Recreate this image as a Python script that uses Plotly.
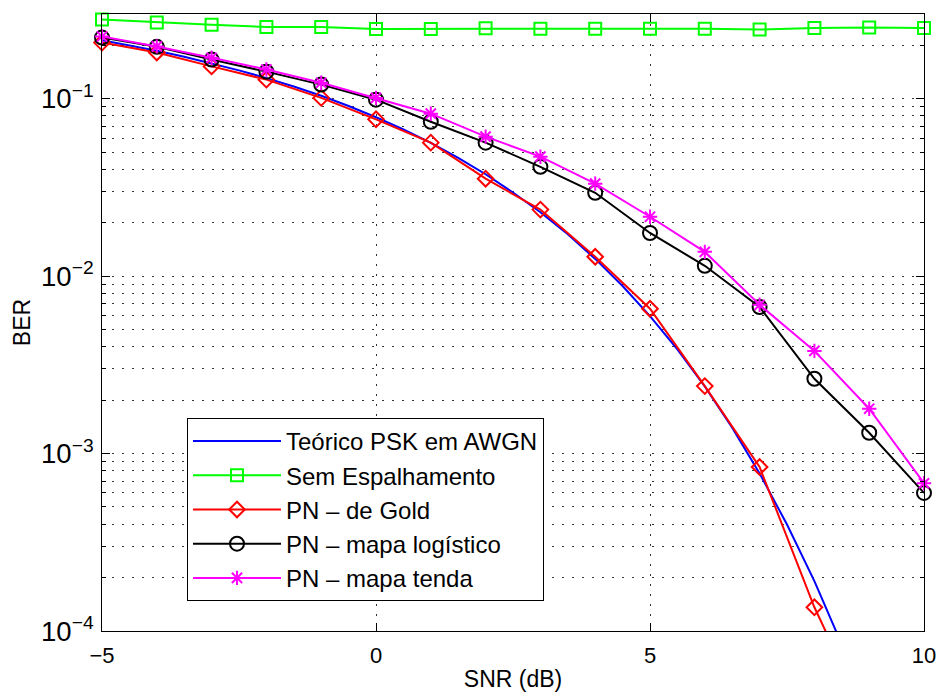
import math
import plotly.graph_objects as go

# ---- data ----
snr_theory = [-5, -4.5, -4, -3.5, -3, -2.5, -2, -1.5, -1, -0.5, 0, 0.5, 1, 1.5, 2, 2.5,
              3, 3.5, 4, 4.5, 5, 5.5, 6, 6.5, 7, 7.5, 8, 8.5, 9]
ber_theory = [0.2132, 0.1998, 0.1861, 0.1723, 0.1584, 0.1444, 0.1306, 0.1171, 0.1038,
              0.0909, 0.0786, 0.0671, 0.0563, 0.0464, 0.0375, 0.0296, 0.0229, 0.0172,
              0.0125, 0.0088, 0.00595, 0.00386, 0.00239, 0.0014, 0.000773, 0.000398,
              0.000191, 0.000084, 0.0000336]

snr = [-5, -4, -3, -2, -1, 0, 1, 2, 3, 4, 5, 6, 7, 8, 9, 10]
ber_sem = [0.279, 0.269, 0.261, 0.2535, 0.2535, 0.247, 0.247, 0.249, 0.248, 0.248,
           0.248, 0.248, 0.245, 0.250, 0.252, 0.250]
snr_gold = [-5, -4, -3, -2, -1, 0, 1, 2, 3, 4, 5, 6, 7, 8, 9]
ber_gold = [0.207, 0.182, 0.152, 0.128, 0.101, 0.0765, 0.0565, 0.0354, 0.0237, 0.01285,
            0.00655, 0.0024, 0.00084, 0.000136, 0.00003]
ber_log = [0.221, 0.196, 0.166, 0.142, 0.120, 0.0987, 0.0741, 0.0565, 0.0413, 0.0295,
           0.0175, 0.01143, 0.0067, 0.00264, 0.00131, 0.00060]
ber_tenda = [0.224, 0.197, 0.170, 0.146, 0.123, 0.101, 0.0823, 0.0611, 0.0471, 0.0332,
             0.0216, 0.0137, 0.00689, 0.00379, 0.00179, 0.00068]

names = ["Teórico PSK em AWGN", "Sem Espalhamento", "PN – de Gold",
         "PN – mapa logístico", "PN – mapa tenda"]

FONT = "Liberation Sans, Arial, Helvetica, sans-serif"
GRIDDASH = "2px,8px"
GRIDCOLOR = "#333333"

fig = go.Figure()
fig.add_trace(go.Scatter(x=snr_theory, y=ber_theory, mode="lines", name=names[0],
                         line=dict(color="#0000FF", width=2), legendgroup="a"))
fig.add_trace(go.Scatter(x=snr, y=ber_sem, mode="lines+markers", name=names[1],
                         line=dict(color="#00FF00", width=2), cliponaxis=False,
                         marker=dict(symbol="square-open", size=12, color="#00FF00",
                                     line=dict(width=2, color="#00FF00")),
                         legendgroup="b"))
fig.add_trace(go.Scatter(x=snr_gold, y=ber_gold, mode="lines+markers", name=names[2],
                         line=dict(color="#FF0000", width=2), cliponaxis=False,
                         marker=dict(symbol="diamond-open", size=12, color="#FF0000",
                                     line=dict(width=2, color="#FF0000")),
                         legendgroup="c"))
fig.add_trace(go.Scatter(x=snr, y=ber_log, mode="lines+markers", name=names[3],
                         line=dict(color="#000000", width=2), cliponaxis=False,
                         marker=dict(symbol="circle-open", size=14, color="#000000",
                                     line=dict(width=2, color="#000000")),
                         legendgroup="d"))
fig.add_trace(go.Scatter(x=snr, y=ber_tenda, mode="lines+markers", name=names[4],
                         line=dict(color="#FF00FF", width=2), cliponaxis=False,
                         marker=dict(symbol="asterisk-open", size=12, color="#FF00FF",
                                     line=dict(width=2, color="#FF00FF")),
                         legendgroup="e"))

fig.update_layout(
    width=940, height=695,
    margin=dict(l=102, r=16, t=14, b=64),
    paper_bgcolor="white", plot_bgcolor="white",
    font=dict(family=FONT, size=22, color="black"),
    showlegend=True,
    legend=dict(x=0.1034, y=0.3452, xanchor="left", yanchor="top",
                bgcolor="white", bordercolor="black", borderwidth=1,
                font=dict(family=FONT, size=24, color="black"),
                itemwidth=88, tracegroupgap=0, traceorder="normal"),
    xaxis=dict(range=[-5, 10], tick0=-5, dtick=5, showline=True, linecolor="black",
               linewidth=1, mirror="allticks", ticks="inside", ticklen=8,
               tickcolor="black", showgrid=True, gridcolor=GRIDCOLOR, griddash=GRIDDASH,
               gridwidth=1, zeroline=False, ticklabelstandoff=5, automargin=False,
               tickfont=dict(family=FONT, size=22),
               title=dict(text="SNR (dB)", font=dict(family=FONT, size=23), standoff=3)),
    yaxis=dict(type="log", range=[-4, math.log10(0.3)], dtick=1, exponentformat="power",
               showline=True, linecolor="black", linewidth=1, mirror="allticks",
               ticks="inside", ticklen=8, tickcolor="black",
               showgrid=True, gridcolor=GRIDCOLOR, griddash=GRIDDASH, gridwidth=1,
               zeroline=False, automargin=False, ticklabelstandoff=3,
               tickfont=dict(family=FONT, size=22),
               minor=dict(dtick="D1", ticks="inside", ticklen=4, tickcolor="black",
                          showgrid=True, gridcolor=GRIDCOLOR, griddash=GRIDDASH,
                          gridwidth=1),
               title=dict(text="BER", font=dict(family=FONT, size=23), standoff=4)),
)

fig.write_html("out.html")
